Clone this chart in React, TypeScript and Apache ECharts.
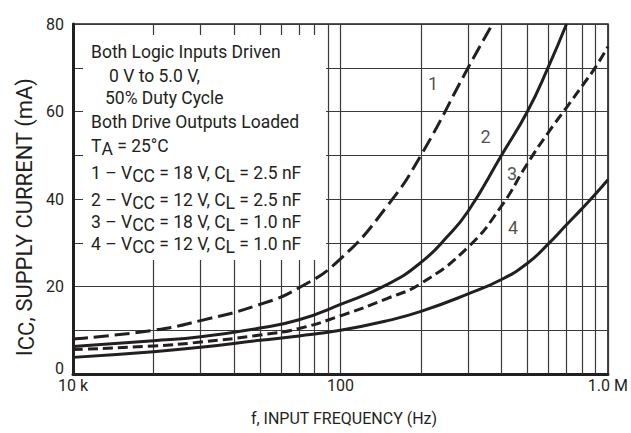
import React, { useEffect, useRef } from 'react';
import * as echarts from 'echarts';

// ---- data ----
const xTickValues = [1e4, 1e5, 1e6];
const xTickLabels = ['10 k', '100', '1.0 M'];
const yTickLabels = [0, 20, 40, 60, 80];
const minorFreqs = [2e4, 3e4, 4e4, 5e4, 6e4, 7e4, 8e4, 9e4, 2e5, 3e5, 4e5, 5e5, 6e5, 7e5, 8e5, 9e5];

const curve1Freq = [1e4, 2e4, 3e4, 5e4, 7e4, 1e5, 1.5e5, 2e5, 3e5, 3.7e5];
const curve1Icc = [8.0, 10.0, 12.2, 15.9, 19.7, 26.3, 38.5, 50.0, 70.0, 80.0];

const curve2Freq = [1e4, 2e4, 3e4, 5e4, 7e4, 1e5, 1.5e5, 2e5, 2.5e5, 3e5, 4e5, 5e5, 6e5, 7e5];
const curve2Icc = [6.3, 7.6, 8.5, 10.5, 12.4, 15.9, 20.5, 25.5, 31.3, 37.2, 50.0, 60.0, 70.3, 80.0];

const curve3Freq = [1e4, 2e4, 3e4, 5e4, 7e4, 1e5, 1.5e5, 2e5, 3e5, 4e5, 5e5, 6e5, 7e5, 8e5, 9e5, 1e6];
const curve3Icc = [5.6, 6.4, 7.3, 8.9, 10.4, 13.3, 17.3, 20.7, 29.0, 38.4, 48.1, 55.3, 60.9, 65.8, 70.2, 74.8];

const curve4Freq = [1e4, 2e4, 3e4, 5e4, 7e4, 1e5, 1.5e5, 2e5, 3e5, 4e5, 5e5, 6e5, 7e5, 8e5, 9e5, 1e6];
const curve4Icc = [3.8, 5.1, 6.1, 7.7, 8.7, 10.0, 12.2, 14.3, 18.3, 21.6, 25.3, 29.8, 34.1, 37.8, 41.2, 44.4];

const curveNames = ['1', '2', '3', '4'];
const curveLabelFreq = [222e3, 349e3, 438e3, 442e3];
const curveLabelIcc = [66.3, 54.2, 45.9, 33.4];

const noteLines = [
  'Both Logic Inputs Driven',
  '0 V to 5.0 V,',
  '50% Duty Cycle',
  'Both Drive Outputs Loaded',
  'T~A~ = 25°C',
  '1 – V~CC~ = 18 V, C~L~ = 2.5 nF',
  '2 – V~CC~ = 12 V, C~L~ = 2.5 nF',
  '3 – V~CC~ = 18 V, C~L~ = 1.0 nF',
  '4 – V~CC~ = 12 V, C~L~ = 1.0 nF',
];
const xTitle = 'f, INPUT FREQUENCY (Hz)';
const yTitle = 'I~CC~, SUPPLY CURRENT (mA)';

// ---- layout ----
const noteX = [91, 109, 105, 91, 91, 91, 91, 91, 91];
const noteY = [52, 76, 98, 122, 146, 173, 200, 222, 244];
const INK = '#231f20';
const GRIDC = '#3a3a3a';
const FONT = 'Roboto, "Liberation Sans", Arial, sans-serif';

function toRich(s: string): string {
  return s
    .split('~')
    .map((p, i) => (p === '' ? '' : `{${i % 2 === 0 ? 'm' : 's'}|${p}}`))
    .join('');
}

function richStyles(size: number, lh: number, drop: number) {
  return {
    m: { fontFamily: FONT, fontSize: size, lineHeight: lh, fill: INK, verticalAlign: 'middle' },
    s: { fontFamily: FONT, fontSize: size, lineHeight: lh - 2 * drop, fill: INK, verticalAlign: 'bottom' },
  };
}

export default function App() {
  const ref = useRef<HTMLDivElement>(null);
  useEffect(() => {
    document.body.style.margin = '0';
    const chart = echarts.init(ref.current!, null, { renderer: 'svg' });
    const mkLine = (freq: number[], icc: number[], dash: number[] | null) => ({
      type: 'line',
      data: freq.map((f, i) => [f, icc[i]]),
      showSymbol: false,
      symbol: 'none',
      smooth: 0.5,
      z: 10,
      silent: true,
      lineStyle: { color: INK, width: 3, type: dash ? dash : 'solid' },
    });
    const graphics: any[] = [
      { type: 'rect', z: 5, shape: { x: 83, y: 35, width: 243, height: 225 }, style: { fill: '#ffffff' } },
    ];
    noteLines.forEach((line, i) => {
      graphics.push({
        type: 'text',
        z: 6,
        x: noteX[i],
        y: noteY[i],
        style: {
          text: toRich(line),
          rich: richStyles(17.5, 24, 2.5),
          fill: INK,
          font: `17.5px ${FONT}`,
          align: 'left',
          textAlign: 'left',
          verticalAlign: 'middle',
          textVerticalAlign: 'middle',
        },
      });
    });
    graphics.push({
      type: 'text',
      z: 6,
      x: 24,
      y: 217,
      rotation: Math.PI / 2,
      style: {
        text: toRich(yTitle),
        rich: richStyles(22, 26, 2.5),
        fill: INK,
        font: `22px ${FONT}`,
        align: 'center',
        textAlign: 'center',
        verticalAlign: 'middle',
        textVerticalAlign: 'middle',
      },
    });
    graphics.push({
      type: 'text',
      z: 6,
      x: 344,
      y: 418,
      style: {
        text: xTitle,
        fill: INK,
        font: `16px ${FONT}`,
        align: 'center',
        textAlign: 'center',
        verticalAlign: 'middle',
        textVerticalAlign: 'middle',
      },
    });

    chart.setOption({
      animation: false,
      grid: { left: 73, right: 16, top: 24, bottom: 59, show: true, borderColor: INK, borderWidth: 1.5, backgroundColor: 'transparent' },
      xAxis: {
        type: 'log',
        logBase: 10,
        min: 1e4,
        max: 1e6,
        axisLine: { show: true, lineStyle: { color: INK, width: 3 } },
        axisTick: { show: false },
        splitLine: { show: true, lineStyle: { color: GRIDC, width: 1.2 } },
        axisLabel: {
          color: INK,
          fontFamily: FONT,
          fontSize: 16,
          margin: 3,
          formatter: (v: number) => {
            const i = xTickValues.findIndex((t) => Math.abs(Math.log10(t) - Math.log10(v)) < 1e-6);
            return i >= 0 ? xTickLabels[i] : '';
          },
        },
      },
      yAxis: {
        type: 'value',
        min: 0,
        max: 80,
        interval: 10,
        axisLine: { show: true, lineStyle: { color: INK, width: 3 } },
        axisTick: { show: false },
        splitLine: { show: true, lineStyle: { color: GRIDC, width: 1.2 } },
        axisLabel: {
          color: INK,
          fontFamily: FONT,
          fontSize: 16,
          margin: 9,
          formatter: (v: number) => {
            if (!yTickLabels.includes(v)) return '';
            return v === yTickLabels[0] ? `{z|${v}}` : String(v);
          },
          rich: { z: { fontFamily: FONT, fontSize: 16, color: INK, padding: [0, 0, 12, 0] } },
        },
      },
      graphic: { elements: graphics },
      series: [
        {
          type: 'line',
          data: [],
          z: 1,
          silent: true,
          markLine: {
            z: 1,
            silent: true,
            animation: false,
            symbol: ['none', 'none'],
            label: { show: false },
            emphasis: { disabled: true },
            lineStyle: { type: 'solid', color: GRIDC, width: 1.2 },
            data: minorFreqs.map((f) => ({ xAxis: f })),
          },
        },
        mkLine(curve1Freq, curve1Icc, [15, 6]),
        mkLine(curve2Freq, curve2Icc, null),
        mkLine(curve3Freq, curve3Icc, [10, 5]),
        mkLine(curve4Freq, curve4Icc, null),
        {
          type: 'scatter',
          z: 11,
          silent: true,
          symbolSize: 1,
          itemStyle: { color: 'rgba(0,0,0,0)' },
          data: curveLabelFreq.map((f, i) => ({ value: [f, curveLabelIcc[i]], name: curveNames[i] })),
          label: { show: true, position: 'inside', formatter: '{b}', color: INK, fontFamily: FONT, fontSize: 18 },
        },
      ],
    });
    return () => chart.dispose();
  }, []);
  return <div ref={ref} style={{ position: 'absolute', left: 0, top: 0, width: 631, height: 433 }} />;
}
